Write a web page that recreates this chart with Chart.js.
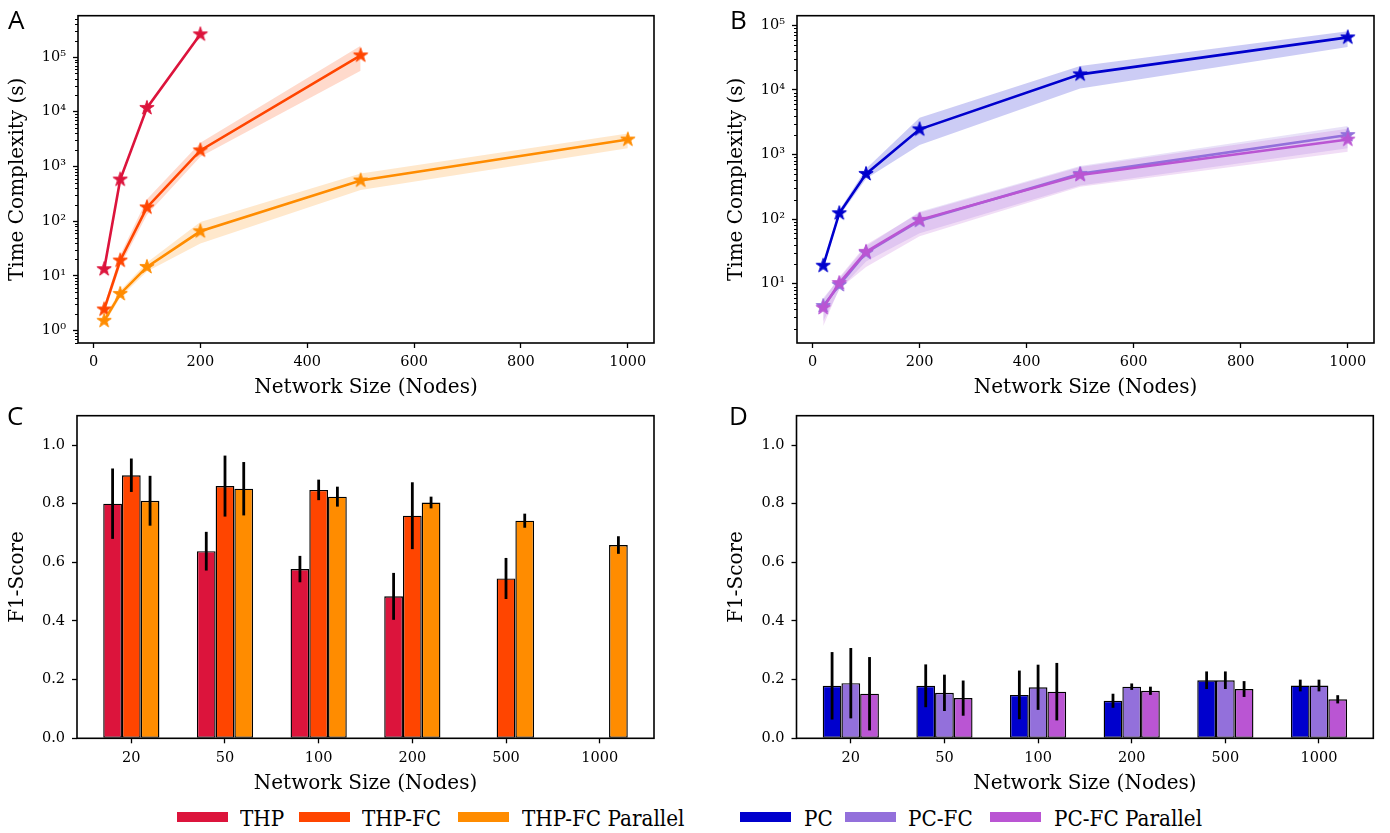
<!DOCTYPE html>
<html>
<head>
<meta charset="utf-8">
<script src="https://cdn.jsdelivr.net/npm/chart.js@4.4.1/dist/chart.umd.min.js"></script>
<style>
  body { margin: 0; background: #fff; width: 1390px; height: 833px; position: relative; overflow: hidden; }
  canvas { position: absolute; }
  .tag { position: absolute; font-family: 'Open Sans'; font-size: 26px; line-height: 26px; color: #000; }
  .sw { position: absolute; top: 812px; width: 51px; height: 10px; }
  .lg { position: absolute; top: 806px; font-family: 'DejaVu Serif'; font-size: 20px; line-height: 20px;
        white-space: nowrap; transform: scaleY(1.15); transform-origin: left top; }
</style>
</head>
<body>
<canvas id="cA" width="680" height="400" style="left:0;top:0"></canvas>
<canvas id="cB" width="671" height="400" style="left:719px;top:0"></canvas>
<canvas id="cC" width="680" height="396" style="left:0;top:400px"></canvas>
<canvas id="cD" width="671" height="396" style="left:719px;top:400px"></canvas>

<div class="tag" style="left:8px;top:6px">A</div>
<div class="tag" style="left:730px;top:6px">B</div>
<div class="tag" style="left:7px;top:402px">C</div>
<div class="tag" style="left:729px;top:402px">D</div>

<div class="sw" style="left:177px;background:#DC143C"></div><div class="lg" style="left:240px">THP</div>
<div class="sw" style="left:299px;background:#FF4500"></div><div class="lg" style="left:362px">THP-FC</div>
<div class="sw" style="left:458px;background:#FF8C00"></div><div class="lg" style="left:522px">THP-FC Parallel</div>
<div class="sw" style="left:740px;background:#0000CD"></div><div class="lg" style="left:804px">PC</div>
<div class="sw" style="left:845px;background:#9370DB"></div><div class="lg" style="left:908px">PC-FC</div>
<div class="sw" style="left:990px;background:#BA55D3"></div><div class="lg" style="left:1054px">PC-FC Parallel</div>

<script>
// network sizes (x of the time plots, categories of the bar plots)
const sizes = [20, 50, 100, 200, 500, 1000];
const sizeLabels = ['20', '50', '100', '200', '500', '1000'];
const sizeTicks = [0, 200, 400, 600, 800, 1000];
const f1Ticks = [0, 0.2, 0.4, 0.6, 0.8, 1.0];

// panel A: time complexity (s), mean and shaded band
const thpTime     = [13.2, 575, 11750, 260000];
const thpTimeLo   = [12, 540, 11000, 250000];
const thpTimeHi   = [14.5, 610, 12500, 270000];
const thpFcTime   = [2.42, 19, 178, 1960, 107000];
const thpFcTimeLo = [2.0, 15, 130, 1500, 56000];
const thpFcTimeHi = [2.9, 24, 250, 2700, 160000];
const thpParTime   = [1.5, 4.65, 14.5, 65, 553, 3100];
const thpParTimeLo = [1.3, 4.0, 12, 39, 370, 2150];
const thpParTimeHi = [1.75, 5.4, 17.5, 96, 740, 4000];

// panel B
const pcTime     = [18.9, 123, 500, 2450, 17400, 65000];
const pcTimeLo   = [17, 110, 420, 1400, 10500, 46000];
const pcTimeHi   = [21, 137, 600, 3700, 23500, 81000];
const pcFcTime   = [4.5, 9.5, 30, 94, 500, 2000];
const pcFcTimeLo = [2.6, 8.0, 22, 60, 330, 1250];
const pcFcTimeHi = [6.0, 12, 38, 130, 660, 2750];
const pcParTime   = [4.2, 10.2, 31, 97, 480, 1700];
const pcParTimeLo = [2.2, 8.3, 18, 54, 316, 1100];
const pcParTimeHi = [5.6, 12.5, 40, 125, 640, 2500];

// panel C: F1 score and error
const thpF1     = [0.80, 0.638, 0.577, 0.484, 0, 0];
const thpF1Err  = [0.12, 0.066, 0.045, 0.08, 0, 0];
const thpFcF1    = [0.897, 0.86, 0.847, 0.759, 0.545, 0];
const thpFcF1Err = [0.057, 0.104, 0.035, 0.114, 0.07, 0];
const thpParF1    = [0.81, 0.851, 0.824, 0.804, 0.742, 0.659];
const thpParF1Err = [0.085, 0.091, 0.034, 0.02, 0.024, 0.03];

// panel D
const pcF1     = [0.179, 0.179, 0.148, 0.128, 0.198, 0.18];
const pcF1Err  = [0.115, 0.073, 0.083, 0.024, 0.03, 0.02];
const pcFcF1    = [0.188, 0.155, 0.174, 0.176, 0.198, 0.18];
const pcFcF1Err = [0.12, 0.062, 0.077, 0.011, 0.03, 0.02];
const pcParF1    = [0.152, 0.137, 0.159, 0.162, 0.168, 0.133];
const pcParF1Err = [0.125, 0.06, 0.098, 0.014, 0.027, 0.014];

const decadesA = [1, 10, 100, 1e3, 1e4, 1e5];
const decadesB = [10, 100, 1e3, 1e4, 1e5];

Chart.defaults.color = '#000';
Chart.defaults.font.family = 'DejaVu Serif';
Chart.defaults.animation = false;

const tickFont = {family: 'DejaVu Serif', size: 14.5};
const titleFont = {family: 'DejaVu Serif', size: 20};
const SUP = '⁰¹²³⁴⁵⁶⁷⁸⁹';

function rgba(hex, a) {
  const n = parseInt(hex.slice(1), 16);
  return `rgba(${n >> 16},${(n >> 8) & 255},${n & 255},${a})`;
}

function star(color, r) {
  const c = document.createElement('canvas');
  const s = Math.ceil(r * 2 + 3);
  c.width = c.height = s;
  const g = c.getContext('2d');
  g.beginPath();
  for (let i = 0; i < 10; i++) {
    const rr = i % 2 ? r * 0.382 : r;
    const a = -Math.PI / 2 + i * Math.PI / 5;
    g.lineTo(s / 2 + rr * Math.cos(a), s / 2 + rr * Math.sin(a));
  }
  g.closePath();
  g.fillStyle = color; g.fill();
  g.strokeStyle = color; g.lineWidth = 1; g.stroke();
  return c;
}

// box around the axes, log minor ticks, error bars
const frame = {
  id: 'frame',
  afterDatasetsDraw(chart) {
    const {ctx} = chart;
    const ys = chart.scales.y;
    ctx.save();
    ctx.strokeStyle = '#000';
    ctx.lineWidth = 2.8;
    chart.data.datasets.forEach((ds, i) => {
      if (!ds.err) return;
      chart.getDatasetMeta(i).data.forEach((bar, j) => {
        const e = ds.err[j];
        if (!e) return;
        const v = ds.data[j].y;
        ctx.beginPath();
        ctx.moveTo(bar.x, ys.getPixelForValue(v - e));
        ctx.lineTo(bar.x, ys.getPixelForValue(v + e));
        ctx.stroke();
      });
    });
    ctx.restore();
  },
  afterDraw(chart, args, opts) {
    const {ctx, chartArea: a} = chart;
    const ys = chart.scales.y;
    ctx.save();
    ctx.strokeStyle = '#000';
    if (opts.minor) {
      ctx.lineWidth = 1;
      const lo = Math.floor(Math.log10(ys.min)), hi = Math.ceil(Math.log10(ys.max));
      for (let e = lo; e <= hi; e++) {
        for (let k = 2; k <= 9; k++) {
          const v = k * Math.pow(10, e);
          if (v <= ys.min || v >= ys.max) continue;
          const p = Math.round(ys.getPixelForValue(v)) + 0.5;
          ctx.beginPath();
          ctx.moveTo(a.left, p);
          ctx.lineTo(a.left - 3, p);
          ctx.stroke();
        }
      }
    }
    ctx.lineWidth = 1.6;
    ctx.strokeRect(a.left, a.top, a.right - a.left, a.bottom - a.top);
    ctx.restore();
  }
};

const tickGrid = {display: true, offset: false, drawOnChartArea: false, drawTicks: true,
                  tickLength: 5, tickColor: '#000', tickWidth: 1.3};

function pts(arr, xs) {
  return arr.map((y, i) => ({x: xs[i], y}));
}

function timeChart(id, series, yMin, yMax, decades, padRight) {
  const datasets = [];
  series.forEach((s, k) => {
    datasets.push({type: 'line', data: pts(s.lo, sizes), borderWidth: 0, pointRadius: 0, fill: false, order: 20 - k});
    datasets.push({type: 'line', data: pts(s.hi, sizes), borderWidth: 0, pointRadius: 0, fill: '-1',
                   backgroundColor: rgba(s.color, 0.2), order: 20 - k});
    datasets.push({type: 'line', data: pts(s.mid, sizes), borderColor: s.color, backgroundColor: s.color,
                   borderWidth: 2.6, pointStyle: star(s.color, 7.5), pointRadius: 7, fill: false, order: 10 - k});
  });
  new Chart(document.getElementById(id), {
    type: 'line',
    data: {datasets},
    plugins: [frame],
    options: {
      responsive: false,
      events: [],
      layout: {padding: {top: 5, right: padRight, left: 0, bottom: 0}},
      plugins: {legend: {display: false}, tooltip: {enabled: false}, frame: {minor: true}},
      scales: {
        x: {
          type: 'linear', min: -29, max: 1049,
          afterBuildTicks: sc => { sc.ticks = sizeTicks.map(v => ({value: v})); },
          afterFit: sc => { sc.height = 57; },
          ticks: {font: tickFont, padding: 6, autoSkip: false, maxRotation: 0, callback: v => String(v)},
          grid: tickGrid, border: {display: false},
          title: {display: true, text: 'Network Size (Nodes)', font: titleFont, padding: {top: 0, bottom: 0}}
        },
        y: {
          type: 'logarithmic', min: yMin, max: yMax,
          afterBuildTicks: sc => { sc.ticks = decades.map(v => ({value: v})); },
          afterFit: sc => { sc.width = 78; },
          ticks: {font: tickFont, padding: 7, autoSkip: false,
                  callback: v => '10' + String(Math.round(Math.log10(v))).split('').map(d => SUP[+d]).join('')},
          grid: tickGrid, border: {display: false},
          title: {display: true, text: 'Time Complexity (s)', font: titleFont, padding: {top: 6, bottom: 0}}
        }
      }
    }
  });
}

function f1Chart(id, series, yWidth, padRight) {
  const cats = sizeLabels.map((_, i) => i);
  const datasets = series.map(s => ({
    data: pts(s.val, cats), err: s.err,
    backgroundColor: s.color, borderColor: '#000', borderWidth: 1.4, borderSkipped: false,
    inflateAmount: 0, categoryPercentage: 0.6, barPercentage: 1.0
  }));
  new Chart(document.getElementById(id), {
    type: 'bar',
    data: {datasets},
    plugins: [frame],
    options: {
      responsive: false,
      events: [],
      layout: {padding: {top: 1, right: padRight, left: 0, bottom: 0}},
      plugins: {legend: {display: false}, tooltip: {enabled: false}, frame: {minor: false}},
      scales: {
        x: {
          type: 'linear', min: -0.58, max: 5.58, offset: false,
          afterBuildTicks: sc => { sc.ticks = cats.map(v => ({value: v})); },
          afterFit: sc => { sc.height = 57.7; },
          ticks: {font: tickFont, padding: 6, autoSkip: false, maxRotation: 0,
                  callback: v => sizeLabels[Math.round(v)]},
          grid: tickGrid, border: {display: false},
          title: {display: true, text: 'Network Size (Nodes)', font: titleFont, padding: {top: 0, bottom: 0}}
        },
        y: {
          type: 'linear', min: 0, max: 1.1,
          afterBuildTicks: sc => { sc.ticks = f1Ticks.map(v => ({value: v})); },
          afterFit: sc => { sc.width = yWidth; },
          ticks: {font: tickFont, padding: 7, autoSkip: false, callback: v => v.toFixed(1)},
          grid: tickGrid, border: {display: false},
          title: {display: true, text: 'F1-Score', font: titleFont, padding: {top: 6, bottom: 0}}
        }
      }
    }
  });
}

timeChart('cA', [
  {mid: thpTime, lo: thpTimeLo, hi: thpTimeHi, color: '#DC143C'},
  {mid: thpFcTime, lo: thpFcTimeLo, hi: thpFcTimeHi, color: '#FF4500'},
  {mid: thpParTime, lo: thpParTimeLo, hi: thpParTimeHi, color: '#FF8C00'}
], 0.589, 5.7e5, decadesA, 26);

timeChart('cB', [
  {mid: pcTime, lo: pcTimeLo, hi: pcTimeHi, color: '#0000CD'},
  {mid: pcFcTime, lo: pcFcTimeLo, hi: pcFcTimeHi, color: '#9370DB'},
  {mid: pcParTime, lo: pcParTimeLo, hi: pcParTimeHi, color: '#BA55D3'}
], 1.2, 1.41e5, decadesB, 16);

f1Chart('cC', [
  {val: thpF1, err: thpF1Err, color: '#DC143C'},
  {val: thpFcF1, err: thpFcF1Err, color: '#FF4500'},
  {val: thpParF1, err: thpParF1Err, color: '#FF8C00'}
], 77, 26);

f1Chart('cD', [
  {val: pcF1, err: pcF1Err, color: '#0000CD'},
  {val: pcFcF1, err: pcFcF1Err, color: '#9370DB'},
  {val: pcParF1, err: pcParF1Err, color: '#BA55D3'}
], 77.5, 16.7);
</script>
</body>
</html>
